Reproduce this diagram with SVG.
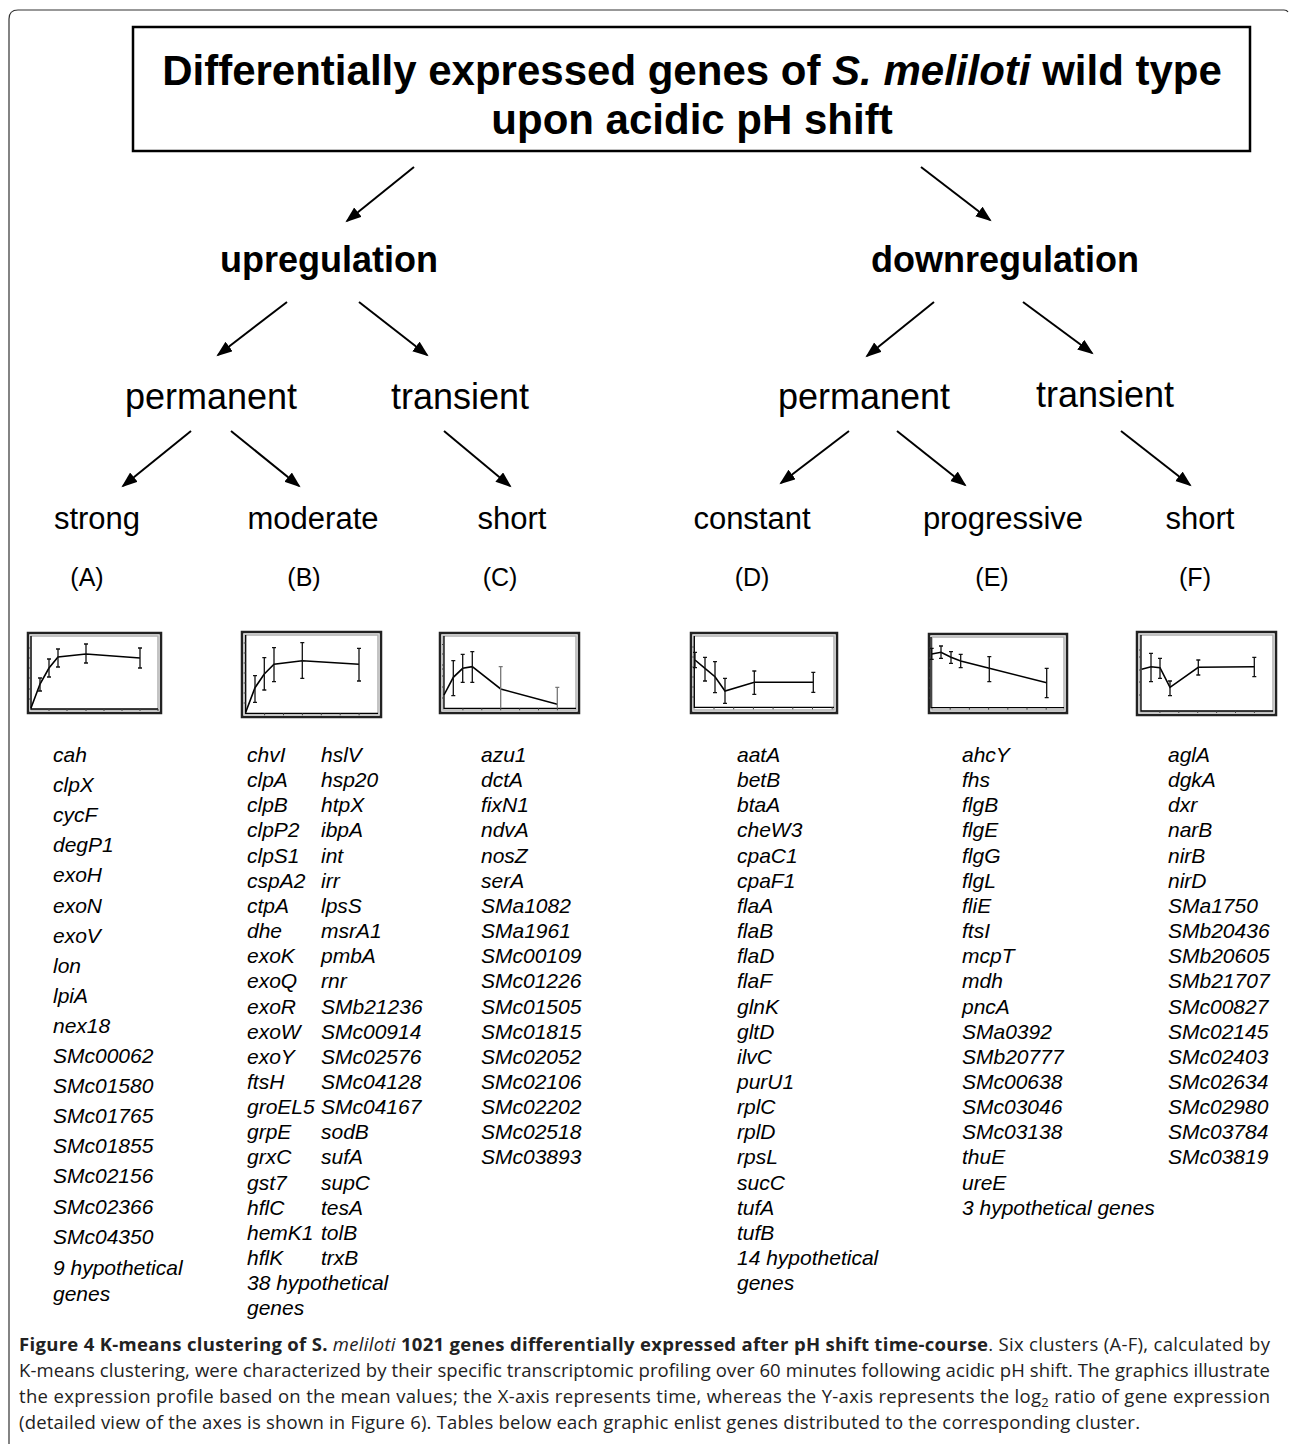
<svg xmlns="http://www.w3.org/2000/svg" width="1290" height="1444" viewBox="0 0 1290 1444">
<style>
.t1{font-family:"Liberation Sans",Arial,sans-serif;font-weight:bold;font-size:42px;fill:#000;text-anchor:middle}
.t2{font-family:"Liberation Sans",Arial,sans-serif;font-weight:bold;font-size:36px;fill:#000;text-anchor:middle}
.t3{font-family:"Liberation Sans",Arial,sans-serif;font-size:36px;fill:#000;text-anchor:middle}
.t4{font-family:"Liberation Sans",Arial,sans-serif;font-size:31px;fill:#000;text-anchor:middle}
.t5{font-family:"Liberation Sans",Arial,sans-serif;font-size:25px;fill:#000;text-anchor:middle}
.g{font-family:"Liberation Sans",Arial,sans-serif;font-style:italic;font-size:21px;fill:#000}
.cap{font-family:"Open Sans","Noto Sans",sans-serif;font-size:18.5px;fill:#222}
.b{font-weight:bold}
.i{font-style:italic}
.arr{stroke:#000;stroke-width:2;fill:none;marker-end:url(#ah)}
.fo{fill:#fff;stroke:#222;stroke-width:2.5}
.fi{fill:none;stroke:#b0b0b0;stroke-width:1.5}
.ax{fill:none;stroke:#000;stroke-width:1.3}
.tk{fill:none;stroke:#444;stroke-width:1}
.ln{fill:none;stroke:#000;stroke-width:1.6}
.eb{fill:none;stroke:#111;stroke-width:1.3}
.ebg{fill:none;stroke:#777;stroke-width:1.3}
</style>
<defs>
<marker id="ah" markerUnits="userSpaceOnUse" markerWidth="18" markerHeight="14" refX="14" refY="6" orient="auto">
<path d="M0,0 L16,6 L0,12 z" fill="#000"/>
</marker>
</defs>
<path d="M9 1444 V19 Q9 10 18 10 H1284 Q1287 10 1288 12" fill="none" stroke="#333" stroke-width="1.2"/>

<g id="title">
<rect x="133" y="27" width="1117" height="124" fill="#fff" stroke="#000" stroke-width="2.5"/>
<text class="t1" x="692" y="85">Differentially expressed genes of <tspan class="i">S. meliloti</tspan> wild type</text>
<text class="t1" x="692" y="134">upon acidic pH shift</text>
</g>
<g id="upregulation"><text class="t2" x="329" y="272">upregulation</text></g>
<g id="downregulation"><text class="t2" x="1005" y="272">downregulation</text></g>
<g id="up-permanent"><text class="t3" x="211" y="409">permanent</text></g>
<g id="up-transient"><text class="t3" x="460" y="409">transient</text></g>
<g id="down-permanent"><text class="t3" x="864" y="409">permanent</text></g>
<g id="down-transient"><text class="t3" x="1105" y="407">transient</text></g>

<g id="connectors">
<line class="arr" x1="414" y1="167" x2="347" y2="221"/>
<line class="arr" x1="921" y1="167" x2="990" y2="220"/>
<line class="arr" x1="287" y1="302" x2="218" y2="355"/>
<line class="arr" x1="359" y1="302" x2="427" y2="355"/>
<line class="arr" x1="934" y1="302" x2="867" y2="356"/>
<line class="arr" x1="1023" y1="302" x2="1092" y2="353"/>
<line class="arr" x1="191" y1="431" x2="123" y2="486"/>
<line class="arr" x1="231" y1="431" x2="299" y2="486"/>
<line class="arr" x1="444" y1="431" x2="510" y2="486"/>
<line class="arr" x1="849" y1="431" x2="781" y2="483"/>
<line class="arr" x1="897" y1="431" x2="965" y2="485"/>
<line class="arr" x1="1121" y1="431" x2="1190" y2="485"/>
</g>

<!-- Cluster A -->
<g id="cluster-A">
<text class="t4" x="97" y="529">strong</text>
<text class="t5" x="87" y="586">(A)</text>
<rect class="fo" x="28" y="633" width="133" height="80"/>
<rect class="fi" x="31" y="636" width="127" height="74"/>
<path class="ax" d="M31 636 V709 H158"/>
<path class="tk" d="M29 648h2M29 658h2M29 668h2M29 678h2M29 689h2M29 699h2M49 709v2M67 709v2M86 709v2M104 709v2M122 709v2M140 709v2M158 709v2"/>
<polyline class="ln" points="31,708 40,684 49,668 58,657 86,654 140,658"/>
<path class="eb" d="M40 678V691M38 678h4M38 691h4 M49 659V677M47 659h4M47 677h4 M58 649V667M56 649h4M56 667h4 M86 644V663M84 644h4M84 663h4 M140 648V668M138 648h4M138 668h4"/>
<text class="g" x="53" y="762">cah<tspan x="53" dy="30.1">clpX</tspan><tspan x="53" dy="30.1">cycF</tspan><tspan x="53" dy="30.1">degP1</tspan><tspan x="53" dy="30.1">exoH</tspan><tspan x="53" dy="30.1">exoN</tspan><tspan x="53" dy="30.1">exoV</tspan><tspan x="53" dy="30.1">lon</tspan><tspan x="53" dy="30.1">lpiA</tspan><tspan x="53" dy="30.1">nex18</tspan><tspan x="53" dy="30.1">SMc00062</tspan><tspan x="53" dy="30.1">SMc01580</tspan><tspan x="53" dy="30.1">SMc01765</tspan><tspan x="53" dy="30.1">SMc01855</tspan><tspan x="53" dy="30.1">SMc02156</tspan><tspan x="53" dy="30.1">SMc02366</tspan><tspan x="53" dy="30.1">SMc04350</tspan><tspan x="53" dy="31">9 hypothetical</tspan><tspan x="53" dy="26">genes</tspan></text>
</g>

<!-- Cluster B -->
<g id="cluster-B">
<text class="t4" x="313" y="529">moderate</text>
<text class="t5" x="304" y="586">(B)</text>
<rect class="fo" x="242" y="632" width="139" height="85"/>
<rect class="fi" x="245" y="635" width="133" height="79"/>
<path class="ax" d="M245.7 635 V713.3 H378"/>
<path class="tk" d="M243.7 703h2M243.7 693h2M243.7 683h2M243.7 673h2M243.7 663h2M243.7 653h2M243.7 643h2M264.6 713.3v2M283.5 713.3v2M302.4 713.3v2M321.3 713.3v2M340.2 713.3v2M359.1 713.3v2"/>
<polyline class="ln" points="245.7,712.3 255,687.7 264.3,674 274,664.3 302.3,660.7 359,664.3"/>
<path class="eb" d="M255 675.7V702.3M253 675.7h4M253 702.3h4 M264.3 657.7V690M262.3 657.7h4M262.3 690h4 M274 647.7V681.7M272 647.7h4M272 681.7h4 M302.3 642.7V678.3M300.3 642.7h4M300.3 678.3h4 M359 648.3V681M357 648.3h4M357 681h4"/>
<text class="g" x="247" y="762">chvI<tspan x="247" dy="25.15">clpA</tspan><tspan x="247" dy="25.15">clpB</tspan><tspan x="247" dy="25.15">clpP2</tspan><tspan x="247" dy="25.15">clpS1</tspan><tspan x="247" dy="25.15">cspA2</tspan><tspan x="247" dy="25.15">ctpA</tspan><tspan x="247" dy="25.15">dhe</tspan><tspan x="247" dy="25.15">exoK</tspan><tspan x="247" dy="25.15">exoQ</tspan><tspan x="247" dy="25.15">exoR</tspan><tspan x="247" dy="25.15">exoW</tspan><tspan x="247" dy="25.15">exoY</tspan><tspan x="247" dy="25.15">ftsH</tspan><tspan x="247" dy="25.15">groEL5</tspan><tspan x="247" dy="25.15">grpE</tspan><tspan x="247" dy="25.15">grxC</tspan><tspan x="247" dy="25.15">gst7</tspan><tspan x="247" dy="25.15">hflC</tspan><tspan x="247" dy="25.15">hemK1</tspan><tspan x="247" dy="25.15">hflK</tspan><tspan x="247" dy="25.15">38 hypothetical</tspan><tspan x="247" dy="25.15">genes</tspan></text>
<text class="g" x="321" y="762">hslV<tspan x="321" dy="25.15">hsp20</tspan><tspan x="321" dy="25.15">htpX</tspan><tspan x="321" dy="25.15">ibpA</tspan><tspan x="321" dy="25.15">int</tspan><tspan x="321" dy="25.15">irr</tspan><tspan x="321" dy="25.15">lpsS</tspan><tspan x="321" dy="25.15">msrA1</tspan><tspan x="321" dy="25.15">pmbA</tspan><tspan x="321" dy="25.15">rnr</tspan><tspan x="321" dy="25.15">SMb21236</tspan><tspan x="321" dy="25.15">SMc00914</tspan><tspan x="321" dy="25.15">SMc02576</tspan><tspan x="321" dy="25.15">SMc04128</tspan><tspan x="321" dy="25.15">SMc04167</tspan><tspan x="321" dy="25.15">sodB</tspan><tspan x="321" dy="25.15">sufA</tspan><tspan x="321" dy="25.15">supC</tspan><tspan x="321" dy="25.15">tesA</tspan><tspan x="321" dy="25.15">tolB</tspan><tspan x="321" dy="25.15">trxB</tspan></text>
</g>

<!-- Cluster C -->
<g id="cluster-C">
<text class="t4" x="512" y="529">short</text>
<text class="t5" x="500" y="586">(C)</text>
<rect class="fo" x="440" y="633" width="139" height="80"/>
<rect class="fi" x="443" y="636" width="133" height="74"/>
<path class="ax" d="M444 636 V708.3 H576"/>
<path class="tk" d="M442 644.5h2M442 654h2M442 665h2M442 669h2M442 676h2M442 687h2M442 698h2M462.9 708.3v2M481.8 708.3v2M500.7 708.3v2M519.6 708.3v2M538.5 708.3v2M557.4 708.3v2"/>
<polyline class="ln" points="444,695 453.3,677.3 462.7,668.3 472.3,666.7 500.7,689 557.3,704.3"/>
<path class="eb" d="M453.3 660.7V695.7M451.3 660.7h4M451.3 695.7h4 M462.7 654.3V682.3M460.7 654.3h4M460.7 682.3h4 M472.3 651.7V682.3M470.3 651.7h4M470.3 682.3h4"/>
<path class="ebg" d="M500.7 666.7V708.3M498.7 666.7h4 M557.3 687.3V708.3M555.3 687.3h4"/>
<text class="g" x="481" y="762">azu1<tspan x="481" dy="25.15">dctA</tspan><tspan x="481" dy="25.15">fixN1</tspan><tspan x="481" dy="25.15">ndvA</tspan><tspan x="481" dy="25.15">nosZ</tspan><tspan x="481" dy="25.15">serA</tspan><tspan x="481" dy="25.15">SMa1082</tspan><tspan x="481" dy="25.15">SMa1961</tspan><tspan x="481" dy="25.15">SMc00109</tspan><tspan x="481" dy="25.15">SMc01226</tspan><tspan x="481" dy="25.15">SMc01505</tspan><tspan x="481" dy="25.15">SMc01815</tspan><tspan x="481" dy="25.15">SMc02052</tspan><tspan x="481" dy="25.15">SMc02106</tspan><tspan x="481" dy="25.15">SMc02202</tspan><tspan x="481" dy="25.15">SMc02518</tspan><tspan x="481" dy="25.15">SMc03893</tspan></text>
</g>

<!-- Cluster D -->
<g id="cluster-D">
<text class="t4" x="752" y="529">constant</text>
<text class="t5" x="752" y="586">(D)</text>
<rect class="fo" x="691" y="633" width="146" height="80"/>
<rect class="fi" x="694" y="636" width="140" height="74"/>
<path class="ax" d="M694.3 636 V707.3 H834"/>
<path class="tk" d="M692.3 647h2M692.3 657h2M692.3 667h2M692.3 677h2M692.3 687h2M692.3 697h2M714 707.3v2M733.7 707.3v2M753.4 707.3v2M773.1 707.3v2M792.8 707.3v2M812.5 707.3v2M832.2 707.3v2"/>
<polyline class="ln" points="695,660 705,668.3 715,676.7 725,691 754.3,682.3 813.3,682.3"/>
<path class="eb" d="M695 652.3V667.7M693 652.3h4M693 667.7h4 M705 657.3V681M703 657.3h4M703 681h4 M715 661.7V692.7M713 661.7h4M713 692.7h4 M725 678.3V703.3M723 678.3h4M723 703.3h4 M754.3 671V694.3M752.3 671h4M752.3 694.3h4 M813.3 672.3V692.3M811.3 672.3h4M811.3 692.3h4"/>
<text class="g" x="737" y="762">aatA<tspan x="737" dy="25.15">betB</tspan><tspan x="737" dy="25.15">btaA</tspan><tspan x="737" dy="25.15">cheW3</tspan><tspan x="737" dy="25.15">cpaC1</tspan><tspan x="737" dy="25.15">cpaF1</tspan><tspan x="737" dy="25.15">flaA</tspan><tspan x="737" dy="25.15">flaB</tspan><tspan x="737" dy="25.15">flaD</tspan><tspan x="737" dy="25.15">flaF</tspan><tspan x="737" dy="25.15">glnK</tspan><tspan x="737" dy="25.15">gltD</tspan><tspan x="737" dy="25.15">ilvC</tspan><tspan x="737" dy="25.15">purU1</tspan><tspan x="737" dy="25.15">rplC</tspan><tspan x="737" dy="25.15">rplD</tspan><tspan x="737" dy="25.15">rpsL</tspan><tspan x="737" dy="25.15">sucC</tspan><tspan x="737" dy="25.15">tufA</tspan><tspan x="737" dy="25.15">tufB</tspan><tspan x="737" dy="25.15">14 hypothetical</tspan><tspan x="737" dy="25.15">genes</tspan></text>
</g>

<!-- Cluster E -->
<g id="cluster-E">
<text class="t4" x="1003" y="529">progressive</text>
<text class="t5" x="992" y="586">(E)</text>
<rect class="fo" x="929" y="634" width="138" height="79"/>
<rect class="fi" x="932" y="637" width="132" height="73"/>
<path class="ax" d="M931 637 V707.7 H1064"/>
<path class="tk" d="M929 648h2M929 658h2M929 668h2M929 678h2M929 688h2M929 698h2M950.2 707.7v2M969.4 707.7v2M988.6 707.7v2M1007.8 707.7v2M1027 707.7v2M1046.2 707.7v2"/>
<polyline class="ln" points="931.7,654 941,652.3 951,657.3 960.7,661 989.3,668.3 1046.7,682.7"/>
<path class="eb" d="M931.7 648.3V659.3M929.7 648.3h4M929.7 659.3h4 M941 646V658.3M939 646h4M939 658.3h4 M951 651.7V663.3M949 651.7h4M949 663.3h4 M960.7 654.3V667.7M958.7 654.3h4M958.7 667.7h4 M989.3 656.7V681.7M987.3 656.7h4M987.3 681.7h4 M1046.7 668.3V697.7M1044.7 668.3h4M1044.7 697.7h4"/>
<text class="g" x="962" y="762">ahcY<tspan x="962" dy="25.15">fhs</tspan><tspan x="962" dy="25.15">flgB</tspan><tspan x="962" dy="25.15">flgE</tspan><tspan x="962" dy="25.15">flgG</tspan><tspan x="962" dy="25.15">flgL</tspan><tspan x="962" dy="25.15">fliE</tspan><tspan x="962" dy="25.15">ftsI</tspan><tspan x="962" dy="25.15">mcpT</tspan><tspan x="962" dy="25.15">mdh</tspan><tspan x="962" dy="25.15">pncA</tspan><tspan x="962" dy="25.15">SMa0392</tspan><tspan x="962" dy="25.15">SMb20777</tspan><tspan x="962" dy="25.15">SMc00638</tspan><tspan x="962" dy="25.15">SMc03046</tspan><tspan x="962" dy="25.15">SMc03138</tspan><tspan x="962" dy="25.15">thuE</tspan><tspan x="962" dy="25.15">ureE</tspan><tspan x="962" dy="25.15">3 hypothetical genes</tspan></text>
</g>

<!-- Cluster F -->
<g id="cluster-F">
<text class="t4" x="1200" y="529">short</text>
<text class="t5" x="1195" y="586">(F)</text>
<rect class="fo" x="1137" y="632" width="139" height="83"/>
<rect class="fi" x="1140" y="635" width="133" height="77"/>
<path class="ax" d="M1141 635 V711 H1273"/>
<path class="tk" d="M1139 650h2M1139 657h2M1139 670h2M1139 682h2M1139 695h2M1159.9 711v2M1178.8 711v2M1197.7 711v2M1216.6 711v2M1235.5 711v2M1254.4 711v2"/>
<polyline class="ln" points="1141.7,669.3 1151,666.7 1160,667.7 1170,687.3 1198.3,667.3 1254.3,666.7"/>
<path class="eb" d="M1151 653.3V681.7M1149 653.3h4M1149 681.7h4 M1160 658.3V678.3M1158 658.3h4M1158 678.3h4 M1170 681V695.7M1168 681h4M1168 695.7h4 M1198.3 660V675M1196.3 660h4M1196.3 675h4 M1254.3 657.3V676.7M1252.3 657.3h4M1252.3 676.7h4"/>
<text class="g" x="1168" y="762">aglA<tspan x="1168" dy="25.15">dgkA</tspan><tspan x="1168" dy="25.15">dxr</tspan><tspan x="1168" dy="25.15">narB</tspan><tspan x="1168" dy="25.15">nirB</tspan><tspan x="1168" dy="25.15">nirD</tspan><tspan x="1168" dy="25.15">SMa1750</tspan><tspan x="1168" dy="25.15">SMb20436</tspan><tspan x="1168" dy="25.15">SMb20605</tspan><tspan x="1168" dy="25.15">SMb21707</tspan><tspan x="1168" dy="25.15">SMc00827</tspan><tspan x="1168" dy="25.15">SMc02145</tspan><tspan x="1168" dy="25.15">SMc02403</tspan><tspan x="1168" dy="25.15">SMc02634</tspan><tspan x="1168" dy="25.15">SMc02980</tspan><tspan x="1168" dy="25.15">SMc03784</tspan><tspan x="1168" dy="25.15">SMc03819</tspan></text>
</g>

<g id="caption">
<text class="cap" x="19" y="1351" textLength="1251" lengthAdjust="spacing"><tspan class="b">Figure 4 K-means clustering of S. </tspan><tspan class="i">meliloti</tspan><tspan class="b"> 1021 genes differentially expressed after pH shift time-course</tspan>. Six clusters (A-F), calculated by</text>
<text class="cap" x="19" y="1377" textLength="1251" lengthAdjust="spacing">K-means clustering, were characterized by their specific transcriptomic profiling over 60 minutes following acidic pH shift. The graphics illustrate</text>
<text class="cap" x="19" y="1403" textLength="1251" lengthAdjust="spacing">the expression profile based on the mean values; the X-axis represents time, whereas the Y-axis represents the log<tspan dy="4" font-size="13">2</tspan><tspan dy="-4"> ratio of gene expression</tspan></text>
<text class="cap" x="19" y="1429" textLength="1121" lengthAdjust="spacing">(detailed view of the axes is shown in Figure 6). Tables below each graphic enlist genes distributed to the corresponding cluster.</text>
</g>
</svg>
